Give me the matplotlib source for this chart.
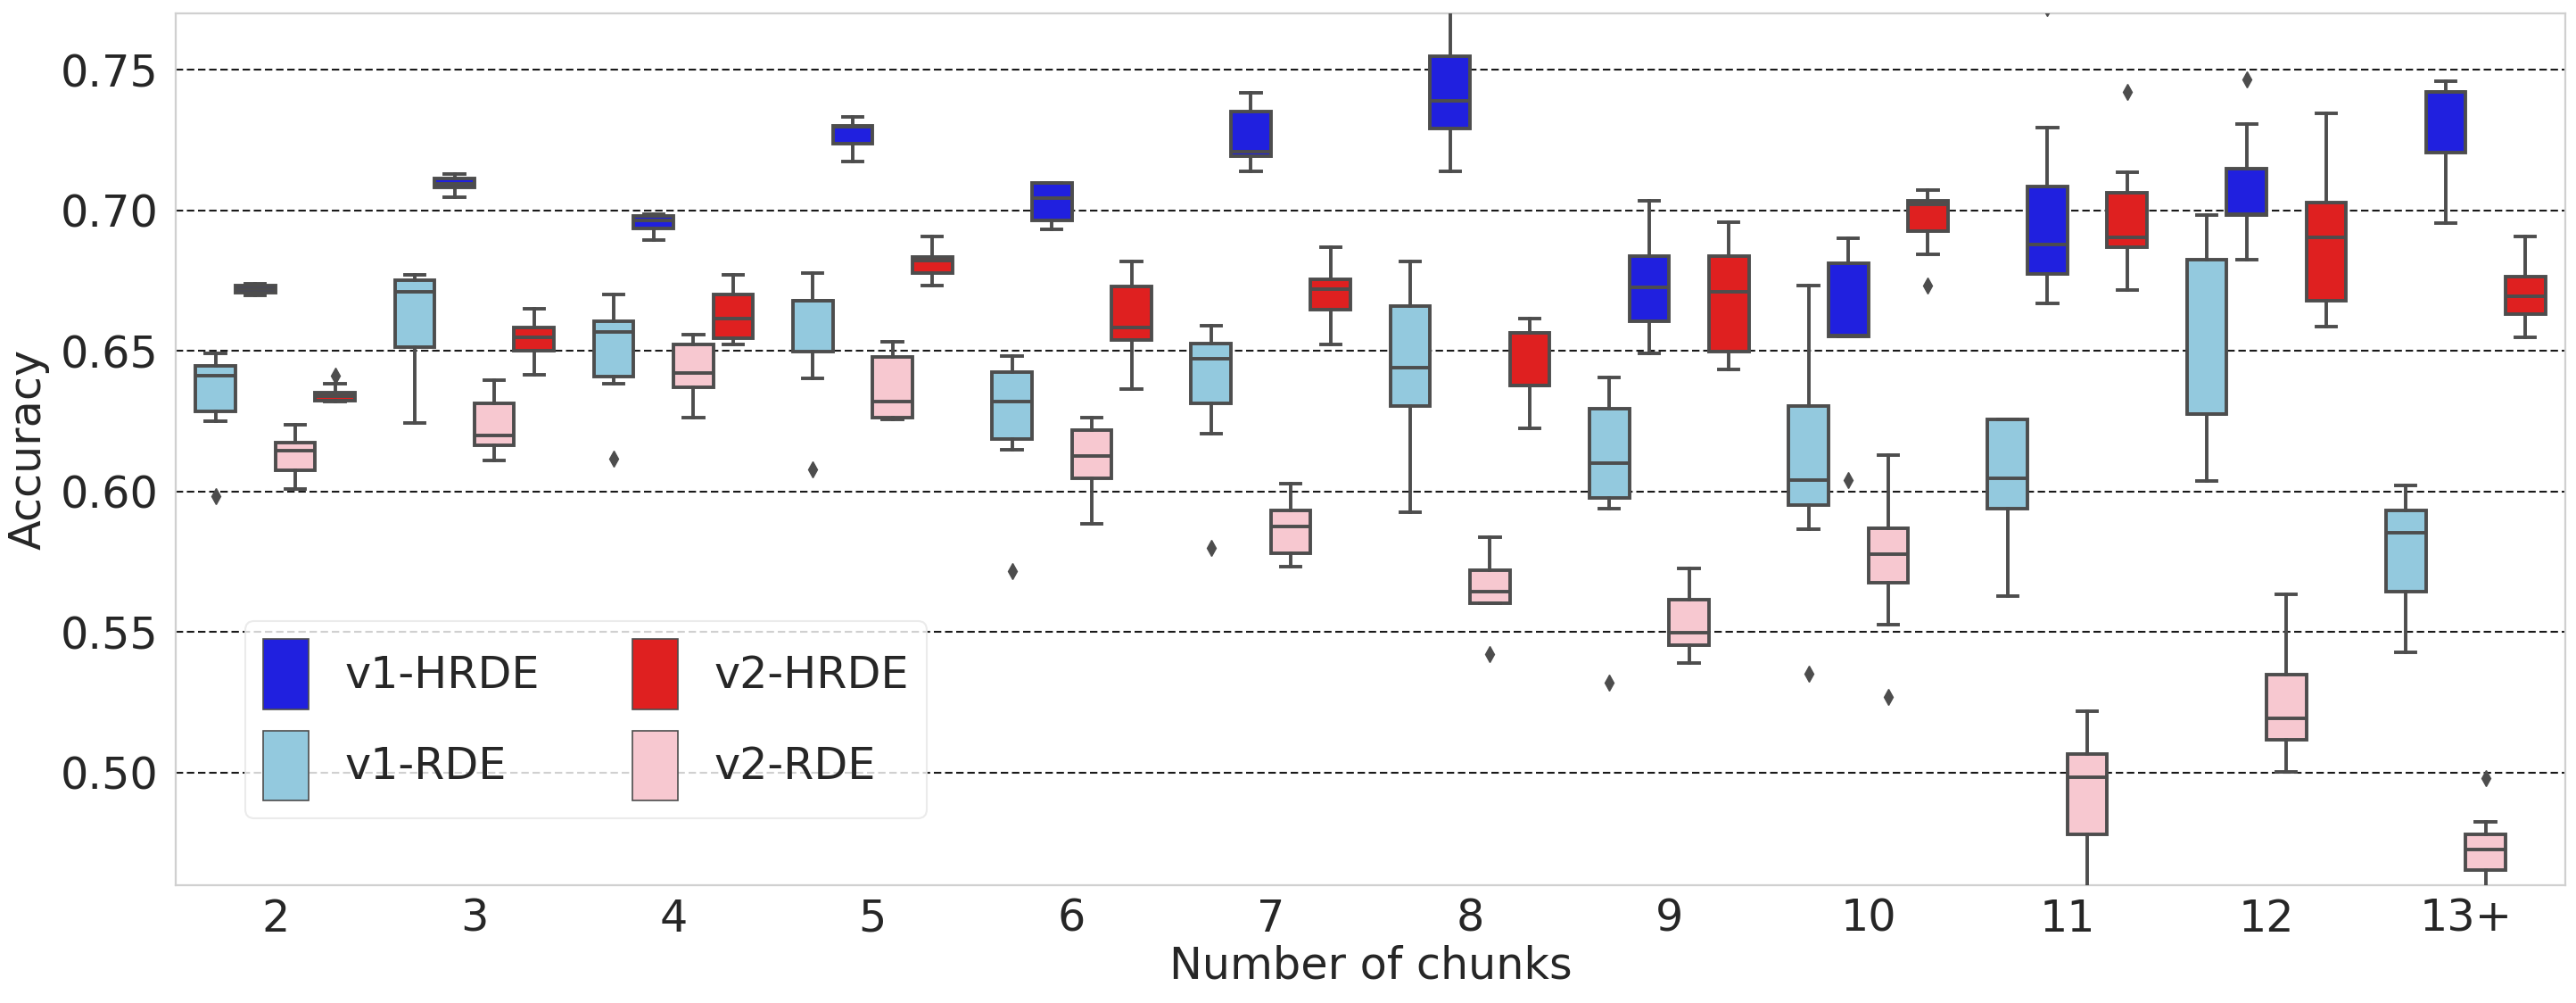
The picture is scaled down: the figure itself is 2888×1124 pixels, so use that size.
import matplotlib
matplotlib.use("Agg")
import matplotlib.pyplot as plt
from matplotlib.patches import Patch

categories = ["2", "3", "4", "5", "6", "7", "8", "9", "10", "11", "12", "13+"]
series = ["v1-RDE", "v1-HRDE", "v2-RDE", "v2-HRDE"]
colors = {"v1-RDE": "#93C9DE", "v1-HRDE": "#2020DF", "v2-RDE": "#F7C8D0", "v2-HRDE": "#DF2020"}

# per-series box statistics, one value per category
v1_rde_whislo = [0.6249, 0.6243, 0.6383, 0.6402, 0.6148, 0.6205, 0.5928, 0.5940, 0.5866, 0.5629, 0.6036, 0.5427]
v1_rde_q1     = [0.6286, 0.6513, 0.6410, 0.6498, 0.6186, 0.6313, 0.6305, 0.5978, 0.5953, 0.5940, 0.6274, 0.5644]
v1_rde_med    = [0.6413, 0.6711, 0.6568, 0.6677, 0.6320, 0.6472, 0.6441, 0.6100, 0.6042, 0.6048, 0.6276, 0.5855]
v1_rde_q3     = [0.6447, 0.6752, 0.6604, 0.6679, 0.6426, 0.6527, 0.6661, 0.6295, 0.6303, 0.6257, 0.6826, 0.5934]
v1_rde_whishi = [0.6492, 0.6770, 0.6701, 0.6776, 0.6483, 0.6591, 0.6818, 0.6407, 0.6731, 0.6257, 0.6983, 0.6023]
v1_rde_fliers = [[0.5984], [], [0.6116], [0.6079], [0.5717], [0.5800], [], [0.5321], [0.5351], [], [], []]

v1_hrde_whislo = [0.6699, 0.7046, 0.6895, 0.7173, 0.6933, 0.7137, 0.7137, 0.6492, 0.6552, 0.6668, 0.6826, 0.6953]
v1_hrde_q1     = [0.6707, 0.7081, 0.6937, 0.7236, 0.6964, 0.7191, 0.7292, 0.6604, 0.6552, 0.6774, 0.6983, 0.7206]
v1_hrde_med    = [0.6719, 0.7094, 0.6965, 0.7297, 0.7042, 0.7207, 0.7389, 0.6725, 0.6555, 0.6877, 0.6985, 0.7420]
v1_hrde_q3     = [0.6734, 0.7114, 0.6979, 0.7300, 0.7097, 0.7351, 0.7548, 0.6838, 0.6811, 0.7085, 0.7149, 0.7421]
v1_hrde_whishi = [0.6740, 0.7130, 0.6985, 0.7331, 0.7097, 0.7419, 0.7750, 0.7034, 0.6902, 0.7294, 0.7306, 0.7458]
v1_hrde_fliers = [[], [], [], [], [], [], [], [], [0.6040], [0.7720], [0.7464], []]

v2_rde_whislo = [0.6008, 0.6110, 0.6263, 0.6255, 0.5884, 0.5734, 0.5603, 0.5390, 0.5528, 0.4550, 0.5004, 0.4550]
v2_rde_q1     = [0.6077, 0.6166, 0.6370, 0.6263, 0.6047, 0.5780, 0.5603, 0.5454, 0.5676, 0.4780, 0.5117, 0.4654]
v2_rde_med    = [0.6144, 0.6199, 0.6420, 0.6320, 0.6125, 0.5876, 0.5644, 0.5498, 0.5778, 0.4985, 0.5193, 0.4726]
v2_rde_q3     = [0.6174, 0.6314, 0.6522, 0.6477, 0.6219, 0.5933, 0.5720, 0.5617, 0.5870, 0.5067, 0.5350, 0.4780]
v2_rde_whishi = [0.6237, 0.6396, 0.6559, 0.6534, 0.6263, 0.6028, 0.5839, 0.5725, 0.6130, 0.5218, 0.5636, 0.4827]
v2_rde_fliers = [[], [], [], [], [], [], [0.5423], [], [0.5270], [], [], [0.4982]]

v2_hrde_whislo = [0.6320, 0.6414, 0.6522, 0.6731, 0.6364, 0.6522, 0.6225, 0.6435, 0.6844, 0.6716, 0.6586, 0.6547]
v2_hrde_q1     = [0.6323, 0.6501, 0.6544, 0.6777, 0.6540, 0.6646, 0.6376, 0.6499, 0.6925, 0.6870, 0.6679, 0.6631]
v2_hrde_med    = [0.6338, 0.6548, 0.6616, 0.6822, 0.6582, 0.6719, 0.6378, 0.6711, 0.7022, 0.6903, 0.6903, 0.6695]
v2_hrde_q3     = [0.6353, 0.6582, 0.6701, 0.6834, 0.6730, 0.6755, 0.6565, 0.6838, 0.7034, 0.7064, 0.7028, 0.6764]
v2_hrde_whishi = [0.6383, 0.6649, 0.6770, 0.6907, 0.6818, 0.6870, 0.6616, 0.6958, 0.7073, 0.7134, 0.7345, 0.6907]
v2_hrde_fliers = [[0.6411], [], [], [], [], [], [], [], [0.6731], [0.7421], [], []]

y_ticks = [0.50, 0.55, 0.60, 0.65, 0.70, 0.75]

stats_table = {
    "v1-RDE": (v1_rde_whislo, v1_rde_q1, v1_rde_med, v1_rde_q3, v1_rde_whishi, v1_rde_fliers),
    "v1-HRDE": (v1_hrde_whislo, v1_hrde_q1, v1_hrde_med, v1_hrde_q3, v1_hrde_whishi, v1_hrde_fliers),
    "v2-RDE": (v2_rde_whislo, v2_rde_q1, v2_rde_med, v2_rde_q3, v2_rde_whishi, v2_rde_fliers),
    "v2-HRDE": (v2_hrde_whislo, v2_hrde_q1, v2_hrde_med, v2_hrde_q3, v2_hrde_whishi, v2_hrde_fliers),
}

plt.rcParams["font.family"] = ["DejaVu Sans"]
TEXT = "#262626"
LINE = "#4d4d4d"
FS = 35.5

fig = plt.figure(figsize=(28.88, 11.24), dpi=100)
ax = fig.add_axes([0.0682, 0.1174, 0.9276, 0.8692])

n_hue = len(series)
slot = 0.8 / n_hue
lw = 2.8
for h, name in enumerate(series):
    wl, q1, med, q3, wh, fl = stats_table[name]
    offset = -0.4 + slot * (h + 0.5)
    stats = []
    for i in range(len(categories)):
        stats.append(dict(whislo=wl[i], q1=q1[i], med=med[i], q3=q3[i], whishi=wh[i], fliers=fl[i]))
    positions = [i + offset for i in range(len(categories))]
    ax.bxp(stats, positions=positions, widths=slot, patch_artist=True, showfliers=True,
           boxprops=dict(facecolor=colors[name], edgecolor=LINE, linewidth=lw),
           medianprops=dict(color=LINE, linewidth=lw),
           whiskerprops=dict(color=LINE, linewidth=lw),
           capprops=dict(color=LINE, linewidth=lw),
           capwidths=slot * 0.5,
           flierprops=dict(marker="d", markersize=9, markerfacecolor=LINE, markeredgecolor=LINE),
           manage_ticks=False, zorder=3)

ax.set_xlim(-0.5, len(categories) - 0.5)
ax.set_ylim(0.46, 0.77)
ax.set_xticks(range(len(categories)))
ax.set_xticklabels(categories)
ax.set_yticks(y_ticks)
ax.set_yticklabels([f"{t:.2f}" for t in y_ticks])
ax.tick_params(axis="both", length=0, labelsize=FS, labelcolor=TEXT)
ax.tick_params(axis="y", pad=14)
ax.tick_params(axis="x", pad=10)
ax.yaxis.grid(True, linestyle=(0, (4, 2)), color="#1a1a1a", linewidth=1.5)
ax.xaxis.grid(False)
ax.set_axisbelow(True)
for sp in ax.spines.values():
    sp.set_color("#d0d0d0")
    sp.set_linewidth(1.6)

ax.set_xlabel("Number of chunks", fontsize=FS, color=TEXT, labelpad=3)
ax.set_ylabel("Accuracy", fontsize=FS, color=TEXT, labelpad=9)

legend_order = ["v1-HRDE", "v1-RDE", "v2-HRDE", "v2-RDE"]
handles = [Patch(facecolor=colors[n], edgecolor=LINE, linewidth=1.2, label=n) for n in legend_order]
leg = ax.legend(handles=handles, ncol=2, loc="lower left", bbox_to_anchor=(0.0291, 0.0768),
                fontsize=FS, handlelength=1.03, handleheight=2.06, handletextpad=0.83,
                columnspacing=2.1, labelspacing=0.49, borderpad=0.41, borderaxespad=0,
                frameon=True, fancybox=True)
leg.get_frame().set_edgecolor("#e6e6e6")
leg.get_frame().set_linewidth(1.5)
for t in leg.get_texts():
    t.set_color(TEXT)

fig.savefig("out.png", dpi=100, facecolor="white")
